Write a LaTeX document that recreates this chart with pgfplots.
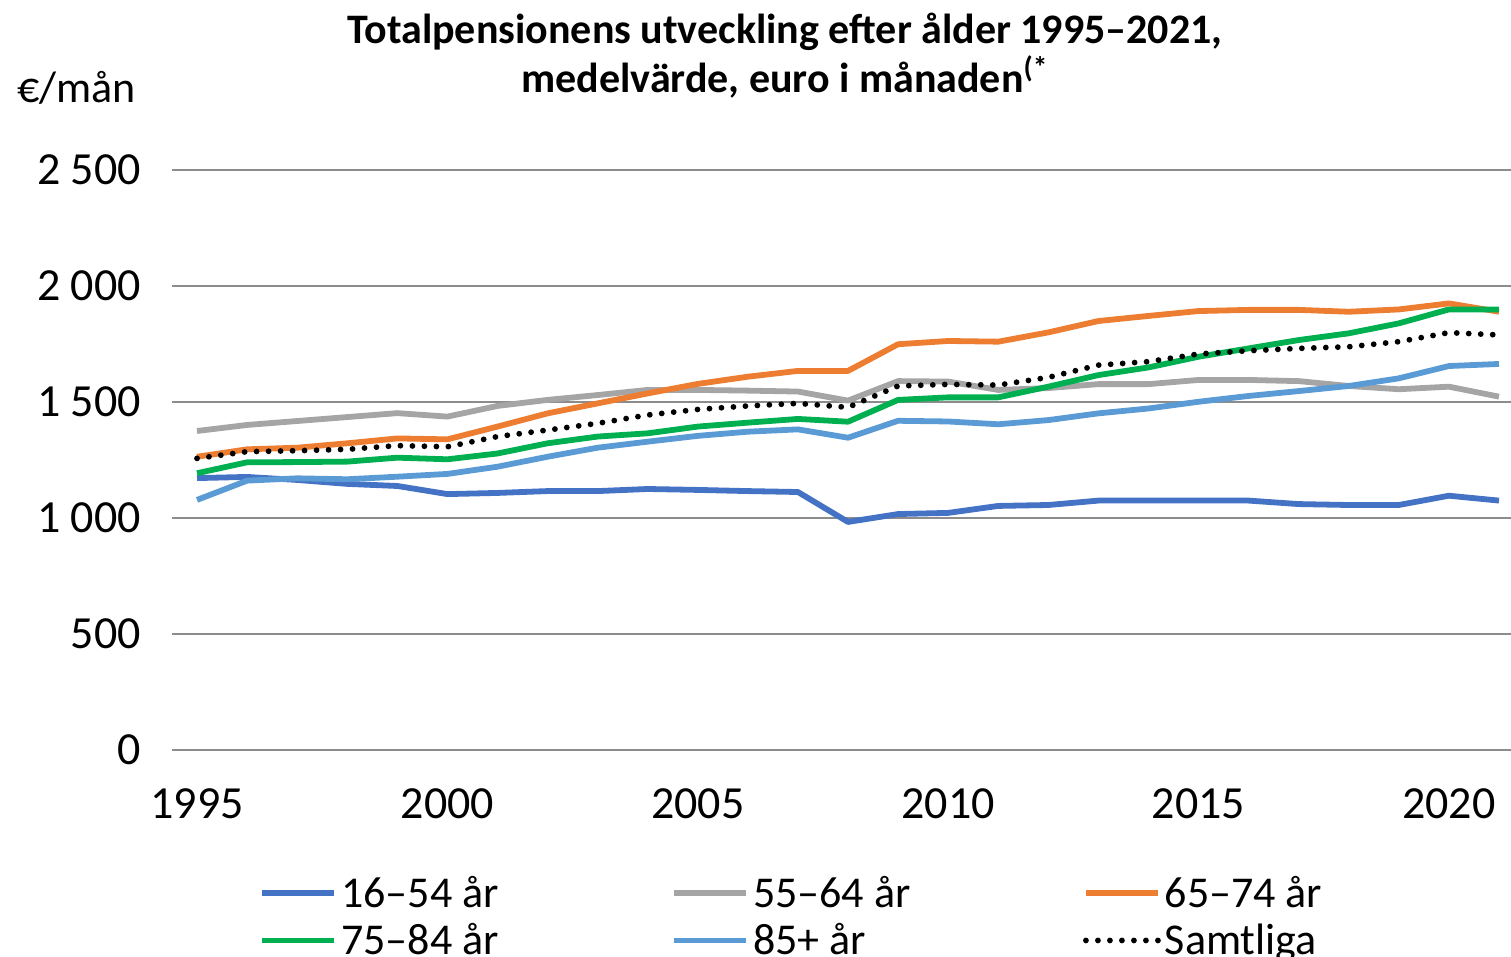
\documentclass[border=0pt]{standalone}
\usepackage{pgfplots}
\pgfplotsset{compat=1.18}
\usepackage{fontspec}
\setmainfont{Carlito}
\definecolor{c1}{HTML}{4472C4}
\definecolor{c2}{HTML}{A5A5A5}
\definecolor{c3}{HTML}{ED7D31}
\definecolor{c4}{HTML}{00B050}
\definecolor{c5}{HTML}{5B9BD5}
\begin{document}
\begin{tikzpicture}
\begin{axis}[
  at={(0,0)}, anchor=south west,
  scale only axis, width=669.5pt, height=290pt,
  xmin=1994.5, xmax=2021.24, ymin=0, ymax=2500,
  axis line style={draw=none},
  major tick length=0pt,
  ymajorgrids, grid style={black!45, line width=0.7pt},
  xtick={1995,2000,2005,2010,2015,2020},
  xticklabels={1995,2000,2005,2010,2015,2020},
  ytick={0,500,1000,1500,2000,2500},
  yticklabels={0,500,1 000,1 500,2 000,2 500},
  ticklabel style={font=\fontsize{23}{27}\selectfont},
  yticklabel style={anchor=east, xshift=-12pt},
  xticklabel style={anchor=north, yshift=-16pt},
  clip=false,
  legend columns=3,
  legend style={draw=none, fill=none, at={(axis description cs:0.065,-0.21)}, anchor=north west,
    font=\fontsize{22}{24}\selectfont, row sep=2.5pt, column sep=0pt, inner sep=0pt,
    cells={anchor=west}},
  legend image code/.code={\draw[#1] (0pt,0pt) -- (36pt,0pt);},
  every axis plot/.append style={line width=2.9pt, line join=round},
]
\addplot[c1, mark=none] coordinates {(1995,1172)(1996,1177)(1997,1164)(1998,1147)(1999,1138)(2000,1103)(2001,1108)(2002,1116)(2003,1116)(2004,1125)(2005,1121)(2006,1116)(2007,1112)(2008,983)(2009,1017)(2010,1022)(2011,1052)(2012,1056)(2013,1075)(2014,1075)(2015,1075)(2016,1075)(2017,1060)(2018,1056)(2019,1056)(2020,1096)(2021,1075)};
\addlegendentry{\makebox[163pt][l]{16–54 år}}
\addplot[c2, mark=none] coordinates {(1995,1375)(1996,1401)(1997,1418)(1998,1435)(1999,1452)(2000,1437)(2001,1483)(2002,1509)(2003,1530)(2004,1552)(2005,1552)(2006,1549)(2007,1545)(2008,1506)(2009,1590)(2010,1588)(2011,1552)(2012,1560)(2013,1577)(2014,1577)(2015,1595)(2016,1595)(2017,1590)(2018,1569)(2019,1555)(2020,1566)(2021,1523)};
\addlegendentry{\makebox[163pt][l]{55–64 år}}
\addplot[c3, mark=none] coordinates {(1995,1264)(1996,1296)(1997,1303)(1998,1322)(1999,1343)(2000,1339)(2001,1394)(2002,1451)(2003,1494)(2004,1537)(2005,1578)(2006,1609)(2007,1634)(2008,1634)(2009,1749)(2010,1763)(2011,1760)(2012,1800)(2013,1849)(2014,1871)(2015,1892)(2016,1897)(2017,1897)(2018,1889)(2019,1899)(2020,1925)(2021,1889)};
\addlegendentry{65–74 år}
\addplot[c4, mark=none] coordinates {(1995,1193)(1996,1240)(1997,1241)(1998,1243)(1999,1260)(2000,1253)(2001,1278)(2002,1322)(2003,1351)(2004,1365)(2005,1394)(2006,1411)(2007,1427)(2008,1415)(2009,1509)(2010,1520)(2011,1520)(2012,1566)(2013,1616)(2014,1649)(2015,1695)(2016,1731)(2017,1767)(2018,1796)(2019,1839)(2020,1899)(2021,1899)};
\addlegendentry{\makebox[163pt][l]{75–84 år}}
\addplot[c5, mark=none] coordinates {(1995,1078)(1996,1161)(1997,1171)(1998,1167)(1999,1178)(2000,1190)(2001,1221)(2002,1264)(2003,1303)(2004,1329)(2005,1354)(2006,1372)(2007,1382)(2008,1346)(2009,1419)(2010,1416)(2011,1404)(2012,1422)(2013,1451)(2014,1472)(2015,1501)(2016,1526)(2017,1547)(2018,1569)(2019,1602)(2020,1655)(2021,1664)};
\addlegendentry{\makebox[163pt][l]{85+ år}}
\addplot[black, mark=none, line cap=round, dash pattern=on 0pt off 6pt] coordinates {(1995,1257)(1996,1286)(1997,1290)(1998,1296)(1999,1312)(2000,1307)(2001,1351)(2002,1379)(2003,1408)(2004,1444)(2005,1468)(2006,1483)(2007,1494)(2008,1477)(2009,1569)(2010,1576)(2011,1573)(2012,1606)(2013,1659)(2014,1674)(2015,1707)(2016,1721)(2017,1731)(2018,1738)(2019,1760)(2020,1799)(2021,1789)};
\addlegendentry{Samtliga}
\node[anchor=base, font=\fontsize{21}{24}\selectfont\bfseries] at ([yshift=63pt]axis description cs:0.4578,1) {Totalpensionens utveckling efter ålder 1995–2021,};
\node[anchor=base, font=\fontsize{21}{24}\selectfont\bfseries] at ([yshift=38.5pt]axis description cs:0.4578,1) {medelvärde, euro i månaden\textsuperscript{(*}};
\node[anchor=base west, font=\fontsize{22}{24}\selectfont] at ([xshift=-81pt,yshift=33.5pt]axis description cs:0,1) {€/mån};
\end{axis}
\pgfresetboundingbox
\path[use as bounding box] (-86pt,-103.5pt) rectangle (669.5pt,375pt);
\end{tikzpicture}
\end{document}
